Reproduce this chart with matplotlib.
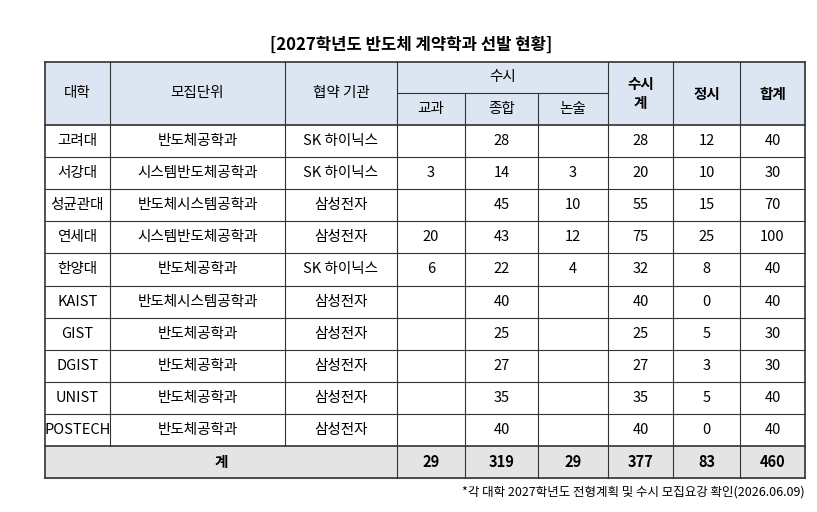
import matplotlib.pyplot as plt

plt.rcParams['font.family'] = ['Noto Sans CJK KR', 'DejaVu Sans']

title = '[2027학년도 반도체 계약학과 선발 현황]'
note = '*각 대학 2027학년도 전형계획 및 수시 모집요강 확인(2026.06.09)'
univs = ['고려대', '서강대', '성균관대', '연세대', '한양대', 'KAIST', 'GIST', 'DGIST', 'UNIST', 'POSTECH']
units = ['반도체공학과', '시스템반도체공학과', '반도체시스템공학과', '시스템반도체공학과', '반도체공학과',
         '반도체시스템공학과', '반도체공학과', '반도체공학과', '반도체공학과', '반도체공학과']
partners = ['SK 하이닉스', 'SK 하이닉스', '삼성전자', '삼성전자', 'SK 하이닉스',
            '삼성전자', '삼성전자', '삼성전자', '삼성전자', '삼성전자']
gyogwa = ['', '3', '', '20', '6', '', '', '', '', '']
jonghap = ['28', '14', '45', '43', '22', '40', '25', '27', '35', '40']
nonsul = ['', '3', '10', '12', '4', '', '', '', '', '']
susi_sum = ['28', '20', '55', '75', '32', '40', '25', '27', '35', '40']
jeongsi = ['12', '10', '15', '25', '8', '0', '5', '3', '5', '0']
total = ['40', '30', '70', '100', '40', '40', '30', '30', '40', '40']
sum_row = ['29', '319', '29', '377', '83', '460']

xs = [45, 110, 285, 397, 465, 538, 608, 673, 740, 805]
h0, h1, h2 = 62, 93, 125
row_h = 32.1
y_end = h2 + row_h * 11

fig = plt.figure(figsize=(8.17, 5.12), dpi=100)
ax = fig.add_axes([0, 0, 1, 1])
ax.set_xlim(0, 817)
ax.set_ylim(512, 0)
ax.axis('off')

hdr_c = '#dce6f2'
ax.add_patch(plt.Rectangle((xs[0], h0), xs[-1] - xs[0], h2 - h0, color=hdr_c, zorder=0))
ax.add_patch(plt.Rectangle((xs[0], h2 + row_h * 10), xs[-1] - xs[0], row_h, color='#e4e4e4', zorder=0))

lc = '#333333'
lw = 0.8
def hl(y, x0, x1, w=lw):
    ax.plot([x0, x1], [y, y], color=lc, lw=w)
def vl(x, y0, y1, w=lw):
    ax.plot([x, x], [y0, y1], color=lc, lw=w)

hl(h0, xs[0], xs[-1], 1.2)
hl(h1, xs[3], xs[6])
for i in range(11):
    hl(h2 + row_h * i, xs[0], xs[-1], 1.2 if i in (0, 10) else lw)
hl(y_end, xs[0], xs[-1], 1.2)
for i, x in enumerate(xs):
    if i in (4, 5):
        vl(x, h1, h2 + row_h * 10)
        vl(x, h2 + row_h * 10, y_end)
    elif i in (1, 2):
        vl(x, h0, h2 + row_h * 10)
    else:
        vl(x, h0, y_end, 1.2 if i in (0, 9) else lw)

fs = 10.5
def cell(c0, c1, y0, y1, s, bold=False):
    ax.text((xs[c0] + xs[c1]) / 2, (y0 + y1) / 2, s, ha='center', va='center',
            fontsize=fs, fontweight='bold' if bold else 'normal')

ax.text(411, 45, title, ha='center', va='center', fontsize=12, fontweight='bold')
cell(0, 1, h0, h2, '대학')
cell(1, 2, h0, h2, '모집단위')
cell(2, 3, h0, h2, '협약 기관')
cell(3, 6, h0, h1, '수시')
cell(3, 4, h1, h2, '교과')
cell(4, 5, h1, h2, '종합')
cell(5, 6, h1, h2, '논술')
cell(6, 7, h0, h2, '수시\n계', True)
cell(7, 8, h0, h2, '정시', True)
cell(8, 9, h0, h2, '합계', True)

for i in range(10):
    y0 = h2 + row_h * i
    vals = [univs[i], units[i], partners[i], gyogwa[i], jonghap[i], nonsul[i], susi_sum[i], jeongsi[i], total[i]]
    for c, v in enumerate(vals):
        cell(c, c + 1, y0, y0 + row_h, v)

y0 = h2 + row_h * 10
cell(0, 3, y0, y_end, '계', True)
for c, v in enumerate(sum_row):
    cell(c + 3, c + 4, y0, y_end, v, True)

ax.text(805, 492, note, ha='right', va='center', fontsize=9)

fig.savefig('out.png', dpi=100)
